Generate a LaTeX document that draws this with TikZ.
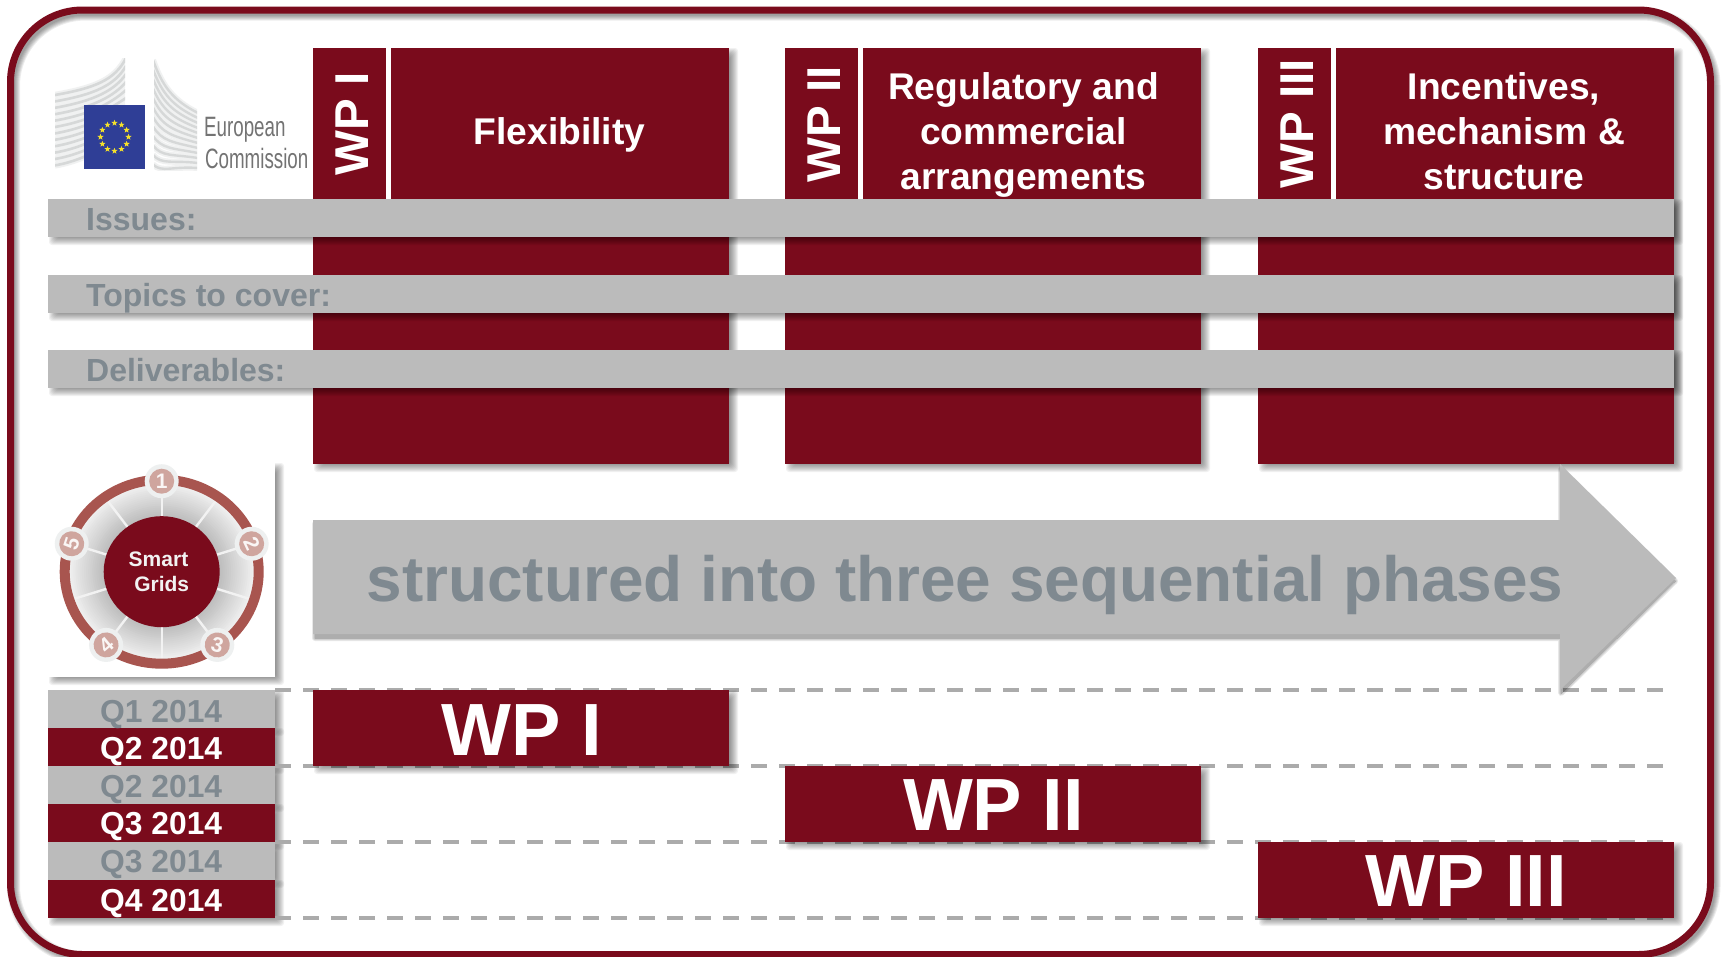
\documentclass[tikz,border=0pt]{standalone}
\usepackage{fontspec}
\setmainfont{Liberation Sans}
\usetikzlibrary{calc,shapes.geometric}
\definecolor{wpred}{HTML}{7A0B1C}
\definecolor{bargray}{HTML}{BBBBBB}
\definecolor{txtgray}{HTML}{7F8990}
\definecolor{dashgray}{HTML}{ABABAB}
\definecolor{ringred}{HTML}{A8554F}
\definecolor{discpink}{HTML}{CFA59E}
\definecolor{discpale}{HTML}{EEF0F0}
\definecolor{flagblue}{HTML}{2F3E96}
\definecolor{flagstar}{HTML}{F5E12A}
\definecolor{bldg}{HTML}{D6D8D8}
\definecolor{bldgpale}{HTML}{F0F1F1}
\tikzset{
  x=1pt,y=-1pt,
  block/.style={inner sep=0pt,outer sep=0pt,anchor=north west},
  redblock/.style={block,fill=wpred},
  grayblock/.style={block,fill=bargray},
  whiteblock/.style={block,fill=white},
  hdr/.style={font=\fontsize{37.2}{45}\selectfont\bfseries,text=white,anchor=base,inner sep=0pt},
  vert/.style={font=\fontsize{47.5}{50}\selectfont\bfseries,text=white,anchor=base,inner sep=0pt,rotate=90},
  rowlabel/.style={font=\fontsize{32}{36}\selectfont\bfseries,text=txtgray,anchor=base west,inner sep=0pt},
  qtr/.style={font=\fontsize{31.8}{36}\selectfont\bfseries,anchor=base,inner sep=0pt},
  bigwp/.style={font=\fontsize{74}{80}\selectfont\bfseries,text=white,anchor=base,inner sep=0pt},
  dashline/.style={draw=dashgray,line width=3.6pt,dash pattern=on 16pt off 12pt},
  euro/.style={font=\fontsize{28}{30}\selectfont,text=black!55,anchor=base west,inner sep=0pt,xscale=.67},
  hubtext/.style={font=\fontsize{21}{25}\selectfont\bfseries,text=white!95!black,anchor=base,inner sep=0pt},
}
% name, style, x1,y1,x2,y2
\newcommand{\softbox}[6]{%
  \foreach \w in {-4,...,4}{\fill[black,opacity=.055,rounded corners=3pt]
    ({#3+5-\w},{#4+4-\w}) rectangle ({#5+5+\w},{#6+4+\w});}%
  \node[#2,minimum width={#5-(#3)},minimum height={#6-(#4)}] (#1) at (#3,#4) {};}
\begin{document}
\begin{tikzpicture}
\useasboundingbox (0,0) rectangle (1721,956);
\fill[white] (0,0) rectangle (1721,956);
% frame
\foreach \w in {0,1,...,5}{\draw[black,opacity=.075,line width={7+2*\w-4},rounded corners=72pt]
  (13.5,14) rectangle (1714,958);}
\fill[white,rounded corners=60pt] (26,26) rectangle (1700,945);
\draw[wpred,line width=7pt,rounded corners=72pt] (10.5,10) rectangle (1710.5,954.5);

% logo
\begin{scope}
\clip (55,58) rectangle (125,170);
\foreach \i in {0,...,11}{\draw[bldgpale,line width=6.4pt]
  (55,{95+6.4*\i}) .. controls (95,{88+6.4*\i}) and (115,{80+5*\i}) .. (126,{58+8*\i});}
\foreach \i in {0,...,11}{\draw[bldg,line width=2.6pt]
  (55,{95+6.4*\i}) .. controls (95,{88+6.4*\i}) and (115,{80+5*\i}) .. (126,{58+8*\i});}
\end{scope}
\begin{scope}
\clip (154,58) rectangle (197,170);
\foreach \i in {0,...,11}{\draw[bldgpale,line width=6pt]
  (153,{60+9.5*\i}) .. controls (162,{85+8*\i}) and (172,{100+6*\i}) .. (198,{113+5*\i});}
\foreach \i in {0,...,11}{\draw[bldg,line width=2.4pt]
  (153,{60+9.5*\i}) .. controls (162,{85+8*\i}) and (172,{100+6*\i}) .. (198,{113+5*\i});}
\end{scope}
\node[block,fill=flagblue,minimum width=61,minimum height=64] (flag) at (84,105) {};
\foreach \a in {0,30,...,330}{
  \node[star,star points=5,star point ratio=2.4,fill=flagstar,inner sep=0pt,minimum size=6.5pt] (star\a) at ($(flag.center)+(\a:14pt)$) {};}
\node[euro] (eur) at (204,136) {European};
\node[euro] (com) at (205,168) {Commission};

% work package columns
\softbox{coli}{redblock}{313}{48}{729}{464}
\softbox{colii}{redblock}{785}{48}{1201}{464}
\softbox{coliii}{redblock}{1258}{48}{1674}{464}
\node[block,fill=white,minimum width=5,minimum height=151] (divi) at (386,48) {};
\node[block,fill=white,minimum width=5,minimum height=151] (divii) at (858,48) {};
\node[block,fill=white,minimum width=5,minimum height=151] (diviii) at (1331,48) {};
\node[vert] (vi) at (368,124) {WP I};
\node[vert] (vii) at (840,124) {WP II};
\node[vert] (viii) at (1313,124) {WP III};
\node[hdr] (h1) at (559.5,144) {Flexibility};
\node[hdr] (h2a) at (1023.5,99) {Regulatory and};
\node[hdr] (h2b) at (1023.5,144) {commercial};
\node[hdr] (h2c) at (1023.5,189) {arrangements};
\node[hdr] (h3a) at (1504,99) {Incentives,};
\node[hdr] (h3b) at (1504,144) {mechanism \&};
\node[hdr] (h3c) at (1504,189) {structure};

% horizontal rows
\softbox{rowa}{grayblock}{48}{199}{1674}{237}
\softbox{rowb}{grayblock}{48}{275}{1674}{313}
\softbox{rowc}{grayblock}{48}{350}{1674}{388}
\node[rowlabel] (la) at (86,230) {Issues:};
\node[rowlabel] (lb) at (86,306) {Topics to cover:};
\node[rowlabel] (lc) at (86,381) {Deliverables:};

% wheel
\softbox{wheelbox}{whiteblock}{48}{463}{275}{677}
\coordinate (C) at (161.7,571.7);
\foreach \r in {90,88,...,54}{\pgfmathsetmacro{\shade}{5+(90-\r)*0.62}\fill[black!\shade] (C) ellipse [x radius={1.05*\r}, y radius=\r];}
\foreach \a in {0,36,...,324}{\draw[white!95!black,line width=2.4pt] (C) -- ($(C)+({94.5*cos(\a+90)},{-90*sin(\a+90)})$);}
\draw[ringred,line width=10pt] (C) ellipse [x radius=97, y radius=92];
\node[ellipse,fill=wpred,minimum width=116pt,minimum height=111pt,inner sep=0pt] (hub) at (C) {};
\node[hubtext] (sg1) at (158.5,566.5) {Smart};
\node[hubtext] (sg2) at (161.7,591.5) {Grids};
\foreach \n/\a/\r in {1/90/0,2/18/-65,3/-54/-15,4/-126/40,5/162/72}{
  \node[circle,fill=discpale,minimum size=34pt,inner sep=0pt] (outer\n) at ($(C)+({94.6*cos(\a)},{-90.5*sin(\a)})$) {};
  \node[circle,fill=discpink,minimum size=25pt,inner sep=0pt,font=\fontsize{21}{21}\selectfont\bfseries,text=white!90!discpink,rotate=\r] (dig\n) at (outer\n) {\n};}

% quarters
\softbox{qa}{grayblock}{48}{690}{275}{728}
\softbox{qb}{redblock}{48}{728}{275}{766}
\softbox{qc}{grayblock}{48}{766}{275}{804}
\softbox{qd}{redblock}{48}{804}{275}{842}
\softbox{qe}{grayblock}{48}{842}{275}{880}
\softbox{qf}{redblock}{48}{880}{275}{918}
\node[block,fill=bargray,minimum width=227,minimum height=38] (qaa) at (48,690) {};
\node[block,fill=wpred,minimum width=227,minimum height=38] (qbb) at (48,728) {};
\node[block,fill=bargray,minimum width=227,minimum height=38] (qcc) at (48,766) {};
\node[block,fill=wpred,minimum width=227,minimum height=38] (qdd) at (48,804) {};
\node[block,fill=bargray,minimum width=227,minimum height=38] (qee) at (48,842) {};
\node[qtr,text=txtgray] (t1) at (161.2,722) {Q1 2014};
\node[qtr,text=white] (t2) at (161.2,759.5) {Q2 2014};
\node[qtr,text=txtgray] (t3) at (161.2,797) {Q2 2014};
\node[qtr,text=white] (t4) at (161.2,834.5) {Q3 2014};
\node[qtr,text=txtgray] (t5) at (161.2,872.5) {Q3 2014};
\node[qtr,text=white] (t6) at (161.2,911) {Q4 2014};

% dashed time lines
\coordinate (dashend) at (1664,0);
\draw[dashline] (qa.north east) -- (qa.north east -| dashend);
\draw[dashline] (qb.south east) -- (qb.south east -| dashend);
\draw[dashline] (qd.south east) -- (qd.south east -| dashend);
\draw[dashline] (qf.south east) -- (qf.south east -| dashend);

% phases arrow
\foreach \w in {0,1,2,3}{
\begin{scope}[transparency group,opacity=.09]
\path[fill=black,draw=black,line width={2*\w},line join=round]
  (315,524) -- (1561,524) -- (1561,469) -- (1675,581) -- (1561,693) -- (1561,638) -- (315,638) -- cycle;
\end{scope}}
\fill[bargray] (313,520) -- (1560,520) -- (1560,464) -- (1676,578) -- (1560,690) -- (1560,634) -- (313,634) -- cycle;
\node[font=\fontsize{63.9}{70}\selectfont\bfseries,text=txtgray,anchor=base,inner sep=0pt] (ph) at (965,601.5) {structured into three sequential phases};

% schedule bars
\softbox{bari}{redblock}{313}{690}{729}{766}
\softbox{barii}{redblock}{785}{766}{1201}{842}
\softbox{bariii}{redblock}{1258}{842}{1674}{918}
\node[bigwp] (bi) at (521.5,755) {WP I};
\node[bigwp] (bii) at (993.5,830.5) {WP II};
\node[bigwp] (biii) at (1466,906.5) {WP III};
\end{tikzpicture}
\end{document}
